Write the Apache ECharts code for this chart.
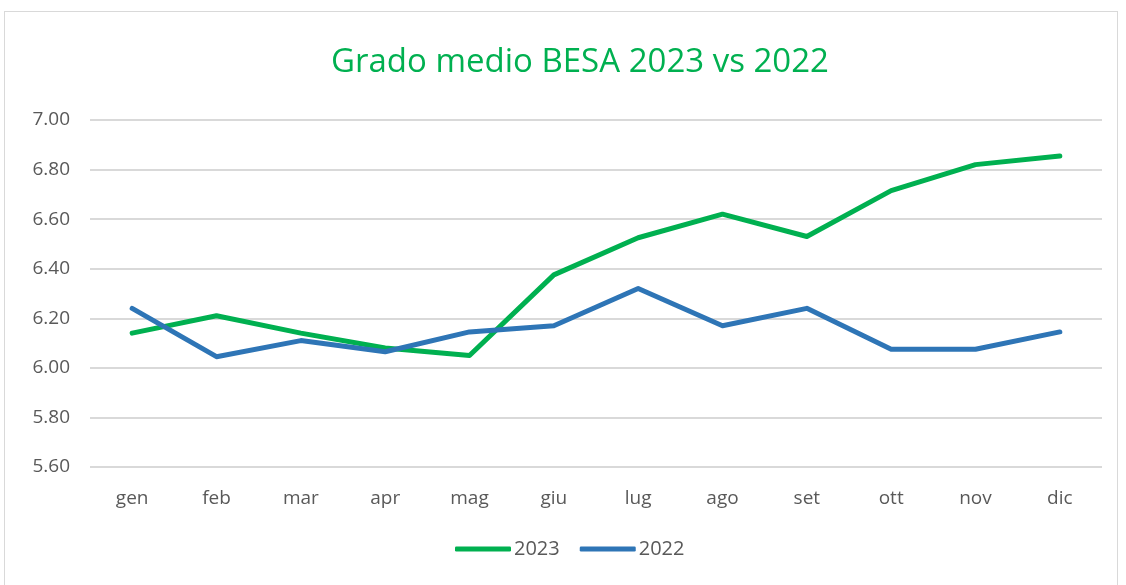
<!DOCTYPE html>
<html>
<head>
<meta charset="utf-8">
<title>Grado medio BESA 2023 vs 2022</title>
<script src="https://cdn.jsdelivr.net/npm/echarts@6/dist/echarts.min.js"></script>
<style>
  html, body { margin: 0; padding: 0; background: #fff; }
  #frame { position: absolute; left: 4px; top: 11px; width: 1112px; height: 600px; border: 1px solid #d9d9d9; }
  #chart { position: absolute; left: 0; top: 0; width: 1126px; height: 585px; }
</style>
</head>
<body>
<div id="frame"></div>
<div id="chart"></div>
<script>
// mesi
var mesi = ['gen', 'feb', 'mar', 'apr', 'mag', 'giu', 'lug', 'ago', 'set', 'ott', 'nov', 'dic'];
// grado medio per anno
var valori2023 = [6.14, 6.21, 6.14, 6.08, 6.05, 6.375, 6.525, 6.62, 6.53, 6.715, 6.82, 6.855];
var valori2022 = [6.24, 6.045, 6.11, 6.065, 6.145, 6.17, 6.32, 6.17, 6.24, 6.075, 6.075, 6.145];

var myChart = echarts.init(document.getElementById('chart'));
var font = '"Open Sans", "Noto Sans", sans-serif';

myChart.setOption({
  animation: false,
  title: {
    text: 'Grado medio BESA 2023 vs 2022',
    left: 326,
    top: 41,
    textStyle: { color: '#00B050', fontSize: 33, fontWeight: 'normal', fontFamily: font }
  },
  legend: {
    bottom: 21,
    left: 450,
    itemWidth: 56,
    itemHeight: 5,
    itemGap: 20,
    icon: 'roundRect',
    textStyle: { color: '#595959', fontSize: 20, fontFamily: font, padding: [0, 0, 0, -2] },
    data: ['2023', '2022']
  },
  grid: { left: 90, right: 24, top: 120, bottom: 118 },
  xAxis: {
    type: 'category',
    data: mesi,
    axisLine: { show: false },
    axisTick: { show: false },
    axisLabel: { color: '#595959', fontSize: 19, fontFamily: font, margin: 22 }
  },
  yAxis: {
    type: 'value',
    min: 5.6,
    max: 7.0,
    interval: 0.2,
    axisLine: { show: false },
    axisTick: { show: false },
    axisLabel: {
      color: '#595959', fontSize: 19, fontFamily: font, margin: 20,
      formatter: function (v) { return v.toFixed(2); }
    },
    splitLine: { lineStyle: { color: '#d9d9d9', width: 2 } }
  },
  series: [
    {
      name: '2023',
      type: 'line',
      data: valori2023,
      symbol: 'none',
      itemStyle: { color: '#00B050' },
      lineStyle: { color: '#00B050', width: 5, cap: 'round', join: 'round' }
    },
    {
      name: '2022',
      type: 'line',
      data: valori2022,
      symbol: 'none',
      itemStyle: { color: '#2E75B6' },
      lineStyle: { color: '#2E75B6', width: 5, cap: 'round', join: 'round' }
    }
  ]
});
</script>
</body>
</html>
